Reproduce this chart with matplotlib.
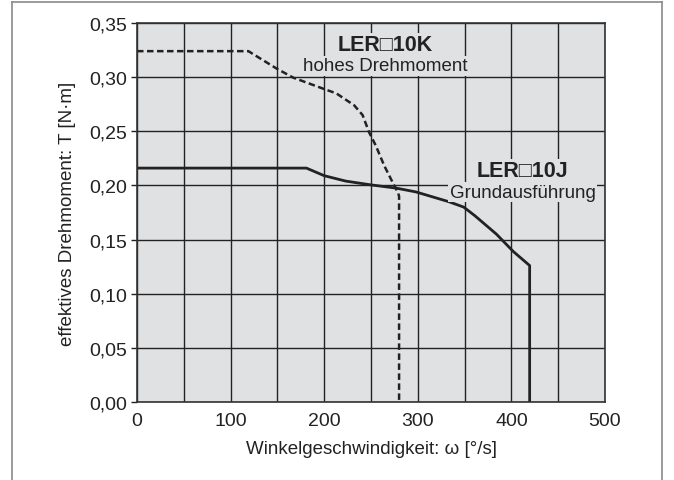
import numpy as np
import matplotlib
matplotlib.use("Agg")
import matplotlib.pyplot as plt
from matplotlib.lines import Line2D

plt.rcParams['font.family'] = ['Liberation Sans', 'DejaVu Sans']

# LER10J - Grundausfuehrung (solid)
j_speed = [0, 181, 200, 223, 250, 277, 298, 333, 349, 361, 384, 402, 419.5, 419.5]
j_torque = [0.216, 0.216, 0.209, 0.204, 0.2005, 0.1975, 0.194, 0.185, 0.180, 0.172, 0.155, 0.139, 0.126, 0.0]

# LER10K - hohes Drehmoment (dashed)
k_speed = [0, 119, 149, 167, 200, 213, 232, 241, 248, 255, 264, 273, 279, 280, 280]
k_torque = [0.324, 0.324, 0.308, 0.2995, 0.289, 0.285, 0.274, 0.265, 0.249, 0.237, 0.2185, 0.203, 0.193, 0.19, 0.0]

x_ticks = [0, 100, 200, 300, 400, 500]
y_ticks = [0.00, 0.05, 0.10, 0.15, 0.20, 0.25, 0.30, 0.35]
y_labels = ["0,00", "0,05", "0,10", "0,15", "0,20", "0,25", "0,30", "0,35"]

bg = "#e0e1e3"
ink = "#222222"

fig = plt.figure(figsize=(6.74, 4.81), dpi=100)
ax = fig.add_axes([137 / 674, 1 - 403 / 481, 468 / 674, 379 / 481])
ax.set_facecolor(bg)

ax.set_xlim(0, 500)
ax.set_ylim(0, 0.35)
ax.set_xticks(x_ticks)
ax.set_xticks(np.arange(0, 501, 50), minor=True)
ax.set_yticks(y_ticks)
ax.set_yticklabels(y_labels)
ax.grid(True, which='both', axis='x', color=ink, linewidth=1.0)
ax.grid(True, which='major', axis='y', color=ink, linewidth=1.0)
ax.set_axisbelow(True)

ax.tick_params(axis='x', which='both', length=0, pad=7, labelsize=14, labelcolor=ink)
ax.tick_params(axis='y', length=4, width=1, color=ink, pad=3, labelsize=14, labelcolor=ink)
for s in ax.spines.values():
    s.set_color("#333333")
    s.set_linewidth(1.2)

ax.plot(j_speed, j_torque, color=ink, linewidth=2.0, solid_joinstyle='round')
ax.plot(k_speed, k_torque, color=ink, linewidth=1.8, linestyle=(0, (2.6, 1.4)))

box = dict(facecolor=bg, edgecolor='none', pad=1)
ax.text(265, 0.3297, "LER\u25a110K", ha='center', va='center', fontsize=15.5,
        fontweight='bold', color=ink, bbox=box)
ax.text(265, 0.3105, "hohes Drehmoment", ha='center', va='center', fontsize=13.5,
        color=ink, bbox=box)
ax.text(412, 0.2136, "LER\u25a110J", ha='center', va='center', fontsize=15.5,
        fontweight='bold', color=ink, bbox=box)
ax.text(412, 0.1937, "Grundausführung", ha='center', va='center', fontsize=13.5,
        color=ink, bbox=box)

ax.set_xlabel("Winkelgeschwindigkeit: ω [°/s]", fontsize=13.5, color=ink, labelpad=8)
ax.set_ylabel("effektives Drehmoment: T [N·m]", fontsize=13.5, color=ink, labelpad=10)

# outer frame (open at the bottom)
frame = "#8a8a8a"
fig.add_artist(Line2D([12 / 674, 12 / 674], [0, 1 - 3 / 481], color=frame, linewidth=1.2))
fig.add_artist(Line2D([12 / 674, 662 / 674], [1 - 3 / 481, 1 - 3 / 481], color=frame, linewidth=1.2))
fig.add_artist(Line2D([662 / 674, 662 / 674], [0, 1 - 3 / 481], color=frame, linewidth=1.2))

fig.savefig("out.png", dpi=100)
